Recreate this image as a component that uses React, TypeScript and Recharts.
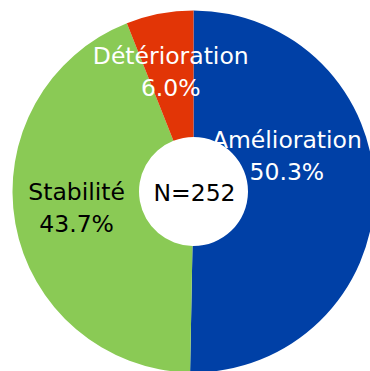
import React from 'react';
import { PieChart, Pie, Cell } from 'recharts';

// Share of respondents by trend
const categories = ['Amélioration', 'Stabilité', 'Détérioration'];
const shares = [50.3, 43.7, 6.0];
const totalLabel = 'N=252';

const sliceColors = ['#0040A6', '#8ACA55', '#E23506'];
const labelColors = ['#FFFFFF', '#000000', '#FFFFFF'];
// radius and angular nudge (degrees) for each slice label
const labelRadius = [100, 118, 121.5];
const labelAngleShift = [21.5, -2.3, 0];

const data = categories.map((name, i) => ({ name, value: shares[i] }));

const FONT = 'DejaVu Sans, Verdana, sans-serif';
const FONT_SIZE = 23.5;
const RAD = Math.PI / 180;

const renderLabel = (props: any) => {
  const { cx, cy, midAngle, index, value, name } = props;
  const a = (midAngle + labelAngleShift[index]) * RAD;
  const r = labelRadius[index];
  const x = cx + r * Math.cos(a);
  const y = cy - r * Math.sin(a);
  return (
    <text
      x={x}
      y={y - 8}
      textAnchor="middle"
      fill={labelColors[index]}
      fontFamily={FONT}
      fontSize={FONT_SIZE}
    >
      <tspan x={x} y={y - 8}>{name}</tspan>
      <tspan x={x} y={y + 24}>{`${value.toFixed(1)}%`}</tspan>
    </text>
  );
};

export default function App() {
  const cx = 193.5;
  const cy = 191.5;
  return (
    <div style={{ position: 'absolute', left: 0, top: 0, width: 370, height: 371, background: '#fff' }}>
      <PieChart width={370} height={371} margin={{ top: 0, right: 0, bottom: 0, left: 0 }}>
        <Pie
          data={data}
          dataKey="value"
          nameKey="name"
          cx={cx}
          cy={cy}
          innerRadius={54.5}
          outerRadius={181}
          startAngle={90}
          endAngle={-270}
          stroke="none"
          label={renderLabel}
          labelLine={false}
          isAnimationActive={false}
        >
          {data.map((d, i) => (
            <Cell key={d.name} fill={sliceColors[i]} />
          ))}
        </Pie>
        <text x={cx + 1} y={201} textAnchor="middle" fill="#000" fontFamily={FONT} fontSize={FONT_SIZE}>
          {totalLabel}
        </text>
      </PieChart>
    </div>
  );
}
